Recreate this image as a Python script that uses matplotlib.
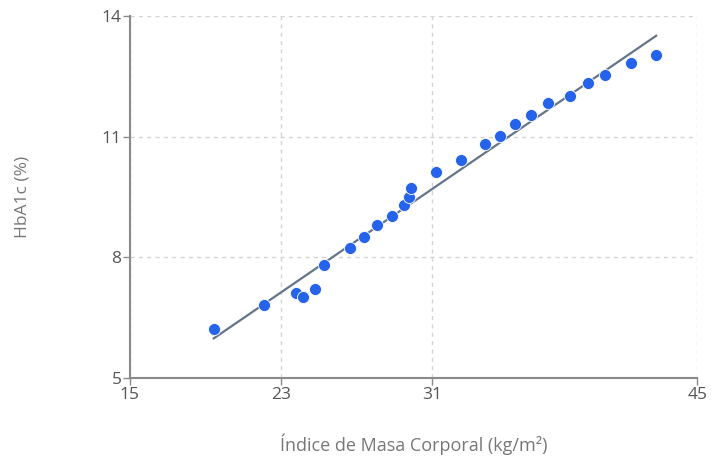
import matplotlib
matplotlib.use("Agg")
import matplotlib.pyplot as plt

# IMC vs HbA1c
imc = [19.44, 22.09, 23.78, 24.15, 24.79, 25.26, 26.64, 27.38, 28.07, 28.86,
       29.50, 29.76, 29.87, 31.19, 32.51, 33.78, 34.58, 35.37, 36.22, 37.12,
       38.28, 39.23, 40.13, 41.51, 42.83]
hba1c = [6.22, 6.82, 7.11, 7.01, 7.21, 7.81, 8.23, 8.51, 8.81, 9.03,
         9.30, 9.50, 9.73, 10.12, 10.42, 10.82, 11.02, 11.32, 11.54, 11.84,
         12.01, 12.34, 12.54, 12.84, 13.03]
# linea de tendencia
tend_x = [19.44, 42.83]
tend_y = [5.99, 13.51]

x_ticks = [15, 23, 31, 45]
y_ticks = [5, 8, 11, 14]

plt.rcParams['font.family'] = ['Open Sans', 'DejaVu Sans']

fig = plt.figure(figsize=(7.21, 4.59), dpi=100)
ax = fig.add_axes([0.180, 0.176, 0.787, 0.789])

ax.plot(tend_x, tend_y, color='#64748b', linewidth=1.6, zorder=2)
ax.scatter(imc, hba1c, s=75, color='#2563eb', edgecolors='white',
           linewidths=0.6, zorder=3)

ax.set_xlim(15, 45)
ax.set_ylim(5, 14)
ax.set_xticks(x_ticks)
ax.set_yticks(y_ticks)
ax.grid(True, color='#d4d4d4', linestyle=(0, (3, 3)), linewidth=1)
ax.set_axisbelow(True)

for s in ['top', 'right']:
    ax.spines[s].set_visible(False)
for s in ['left', 'bottom']:
    ax.spines[s].set_color('#8a8a8a')
    ax.spines[s].set_linewidth(1.5)

ax.tick_params(colors='#8a8a8a', labelcolor='#555555', labelsize=12.5,
               length=5, width=1, pad=1)
ax.set_xlabel('Índice de Masa Corporal (kg/m²)', color='#777777',
              fontsize=13, labelpad=22)
ax.set_ylabel('HbA1c (%)', color='#777777', fontsize=12.5, labelpad=51)

fig.savefig('out.png', dpi=100)
